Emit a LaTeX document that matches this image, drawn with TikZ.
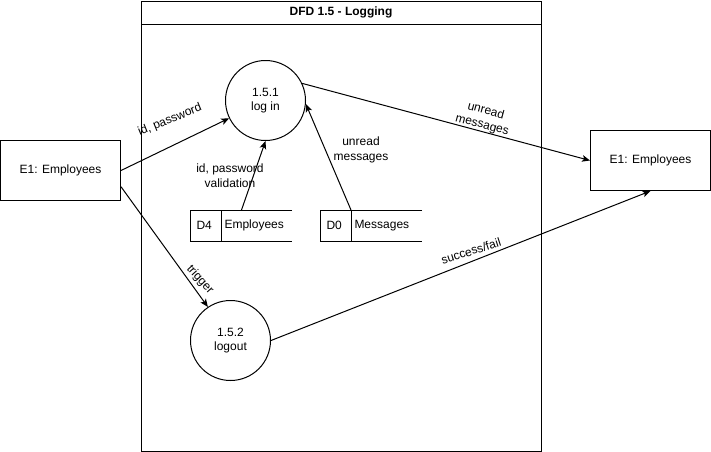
\documentclass[tikz,border=0pt]{standalone}
\usepackage{fontspec}
\setmainfont{Liberation Sans}
\usetikzlibrary{arrows.meta,positioning}

\begin{document}
\begin{tikzpicture}[
    x=0.75pt, y=-0.75pt,
    line width=0.75pt,
    node distance=0pt,
    font=\fontsize{9}{11}\selectfont,
    entity/.style={draw,minimum width=90pt,minimum height=45pt,inner sep=0pt},
    process/.style={draw,circle,minimum size=60pt,inner sep=0pt,align=center},
    storeid/.style={minimum height=22.5pt,text width=13.5pt,inner xsep=4.5pt,
                    inner ysep=0pt,align=left},
    storename/.style={minimum height=22.5pt,text width=48pt,inner xsep=2.25pt,
                      inner ysep=0pt,align=left},
    flow/.style={-{Stealth[length=6pt,width=5pt,inset=1.5pt]}},
    lbl/.style={align=center,inner sep=0pt}]
\useasboundingbox (0,0) rectangle (711,451);
\node (F) [draw,minimum width=300pt,minimum height=337.5pt,inner sep=0pt,
           anchor=north west] at (140.5,0.5) {};
\node (T) [draw,minimum width=300pt,minimum height=17.25pt,inner sep=0pt,
           anchor=north,font=\fontsize{9}{11}\selectfont\bfseries] at (F.north)
          {DFD 1.5 - Logging};
\node (E1L) [entity] at (60.5,170.5) {E1: Employees};
\node (E1R) [entity] at (650.5,160.5) {E1: Employees};
\node (P1) [process] at (265.5,100.5) {1.5.1\\log in};
\node (P2) [process] at (230.5,340.5) {1.5.2\\logout};
\node (D4id) [storeid] at (205.5,225.5) {D4};
\node (D4) [storename,right=of D4id] {Employees};
\node (D0id) [storeid] at (335.5,225.5) {D0};
\node (D0) [storename,right=of D0id] {Messages};
\draw   (D4.north east) -| (D4id.south west) -- (D4.south east);
\draw   (D4id.north east) -- (D4id.south east);
\draw   (D0.north east) -| (D0id.south west) -- (D0.south east);
\draw   (D0id.north east) -- (D0id.south east);
\draw[flow] (E1L.east) -- (P1.206);
\draw[flow] ([xshift=-11.25pt]D4.north) -- (P1.south);
\draw[flow] (D0id.north east) -- (P1.-5);
\draw[flow] (P1.25) -- (E1R.west);
\draw[flow] (E1L.-15) -- (P2.124);
\draw[flow] (P2.east) -- (E1R.south);
\node (L1) [lbl,rotate=22] at (170,120) {id, password};
\node (L2) [lbl] at (230,176) {id, password\\validation};
\node (L3) [lbl] at (361,150) {unread\\messages};
\node (L4) [lbl,rotate=-15] at (484,118) {unread\\messages};
\node (L5) [lbl,rotate=-48] at (200,280) {trigger};
\node (L6) [lbl,rotate=18] at (471,251) {success/fail};
\end{tikzpicture}
\end{document}
